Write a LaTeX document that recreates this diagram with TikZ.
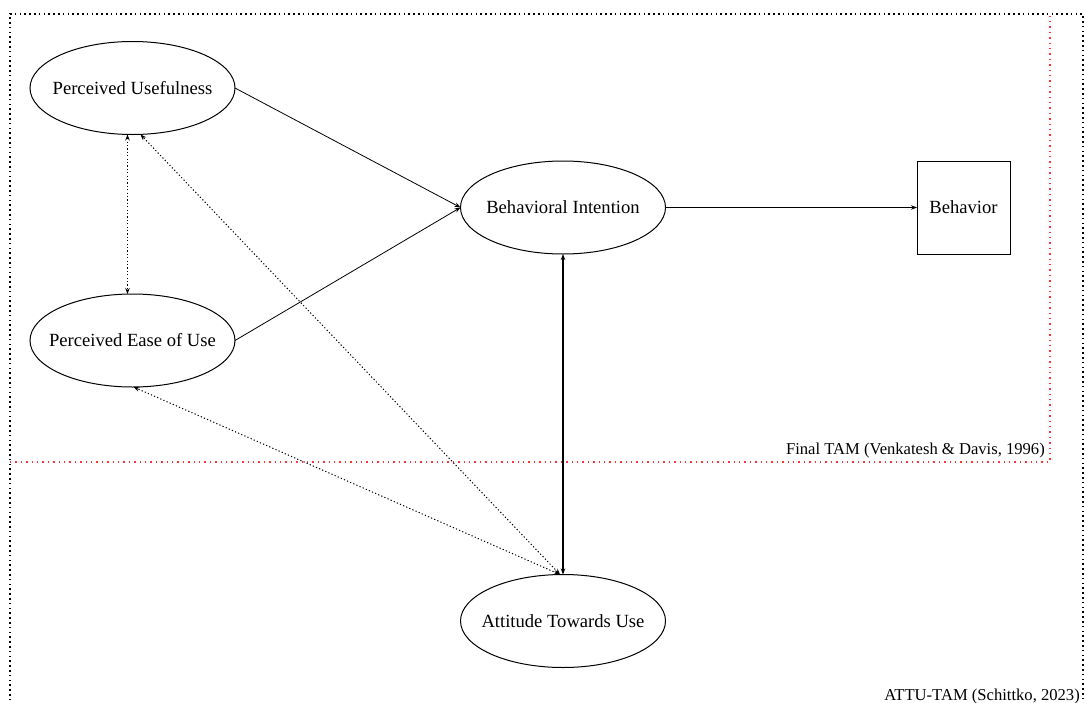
\documentclass[tikz,border=0pt]{standalone}
\usepackage{fontspec}
\setmainfont{Liberation Serif}
\usetikzlibrary{arrows.meta,shapes.geometric}
\begin{document}
\begin{tikzpicture}[x=1pt,y=-1pt,
  construct/.style={draw,line width=1pt,ellipse,minimum width=205pt,minimum height=93pt,inner sep=0pt,outer sep=0pt,
    label={[font=\fontsize{18.6}{22}\selectfont,inner sep=0pt]center:#1}},
  outcome/.style={draw,line width=1pt,rectangle,minimum width=93pt,minimum height=93pt,inner sep=0pt,outer sep=0pt,
    font=\fontsize{18.6}{22}\selectfont},
  link/.style={line width=0.8pt,-{Stealth[length=6pt,width=4.5pt]}},
  duallink/.style={line width=1.1pt,{Stealth[length=6pt,width=4.5pt]}-{Stealth[length=6pt,width=4.5pt]}},
  dotlink/.style={line width=1pt,dash pattern=on 1.2pt off 2.2pt,{Stealth[length=6pt,width=4.5pt]}-{Stealth[length=6pt,width=4.5pt]}},
  framelabel/.style={inner sep=0pt,font=\fontsize{16.6}{19}\selectfont}]
\useasboundingbox (0,0) rectangle (1085,702);

% outer frame (ATTU-TAM), open at the bottom edge
\draw[line width=1.6pt,dash pattern=on 1.6pt off 3.2pt]
  (10,710) -- (10,14) -- (1083,14) -- (1083,710);
% inner frame (Final TAM)
\draw[red!80!white,line width=1.4pt,dash pattern=on 1.4pt off 4pt]
  (10,462) -- (1050,462) -- (1050,14);

\node[framelabel,anchor=east] (tamlabel) at (1045,451) {Final TAM (Venkatesh \& Davis, 1996)};
\node[framelabel,anchor=east] (attulabel) at (1080,696) {ATTU-TAM (Schittko, 2023)};

% constructs
\node[construct={Perceived Usefulness}] (pu)  at (132.5,88)  {};
\node[construct={Perceived Ease of Use}] (peu) at (132.5,340.5) {};
\node[construct={Behavioral Intention}] (bi)  at (563,207.5) {};
\node[construct={Attitude Towards Use}] (atu) at (563,621) {};
\node[outcome] (beh) at (963.5,207.5) {Behavior};

% paths
\draw[link] (pu.east) -- (bi.west);
\draw[link] (peu.east) -- (bi.west);
\draw[link] (bi.east) -- (beh.west);
\draw[duallink] (atu.north) -- (bi.south);
\draw[dotlink] ([xshift=-5pt]pu.south) -- ([xshift=-5pt]peu.north);
\draw[dotlink] ([xshift=-3pt]atu.north) -- ([xshift=8pt]pu.south);
\draw[dotlink] ([xshift=-3pt]atu.north) -- ([xshift=1pt]peu.south);
\end{tikzpicture}
\end{document}
